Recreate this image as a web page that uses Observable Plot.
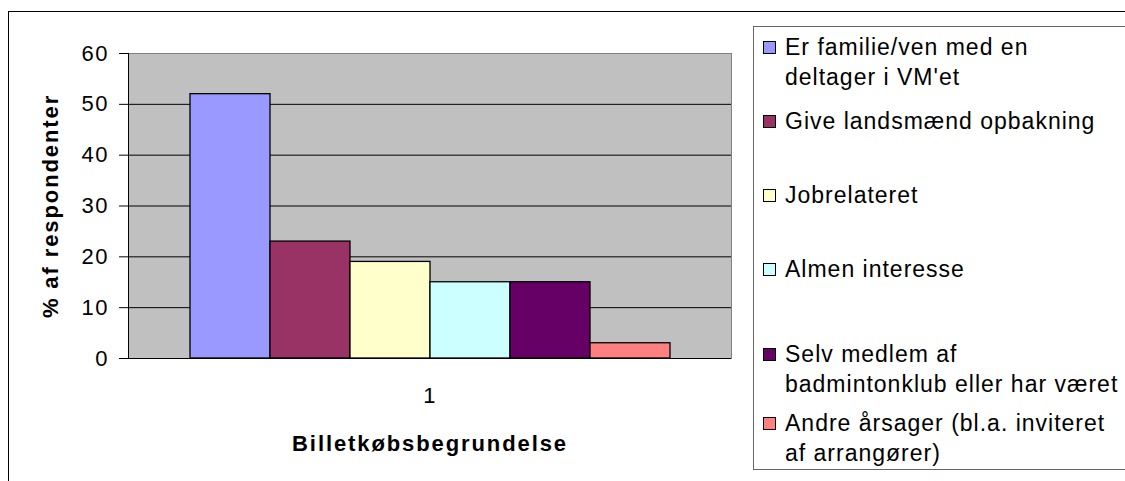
<!DOCTYPE html>
<html>
<head>
<meta charset="utf-8">
<script src="https://cdn.jsdelivr.net/npm/d3@7"></script>
<script src="https://cdn.jsdelivr.net/npm/@observablehq/plot@0.6"></script>
<style>
  body { margin: 0; background: #fff; }
  #chart { position: relative; width: 1125px; height: 481px; overflow: hidden; background: #fff;
           font-family: "Liberation Sans", Arial, sans-serif; color: #000; }
  #plot { position: absolute; left: 0; top: 0; }
  #outer { position: absolute; left: 8px; top: 11px; width: 2000px; height: 2000px;
           border-top: 1.5px solid #000; border-left: 1.5px solid #000; pointer-events: none; }
  #legend { position: absolute; left: 753px; top: 26px; width: 420px; height: 444px;
            box-sizing: border-box; border: 1px solid #666; background: #fff; padding-top: 5px; }
  .item { display: flex; align-items: flex-start; height: 74px; }
  .item:nth-child(4) { height: 85px; }
  .item:nth-child(5) { height: 69px; }
  .sw { flex: none; width: 11px; height: 11px; border: 1px solid #000; margin: 8.5px 9px 0 9px; }
  .lab { font-size: 23px; line-height: 30px; letter-spacing: 1px; white-space: pre-line; }
  #plot svg g[aria-label="y-axis label"] text, #plot svg g[aria-label="fx-axis label"] text { font-weight: bold; font-size: 22px !important; letter-spacing: 1.9px; }
  #plot svg g[aria-label$="tick label"], #plot svg g[aria-label$="tick label"] text { font-size: 22px !important; letter-spacing: 1.5px; }
</style>
</head>
<body>
<div id="chart">
  <div id="plot"></div>
  <div id="outer"></div>
  <div id="legend"></div>
</div>
<script>
const categories = ["1"];
const series = [
  "Er familie/ven med en\ndeltager i VM'et",
  "Give landsmænd opbakning",
  "Jobrelateret",
  "Almen interesse",
  "Selv medlem af\nbadmintonklub eller har været",
  "Andre årsager (bl.a. inviteret\naf arrangører)"
];
const values = [52, 23, 19, 15, 15, 3];
const colors = ["#9999FF", "#993366", "#FFFFCC", "#CCFFFF", "#660066", "#FF8080"];
const yTicks = [0, 10, 20, 30, 40, 50, 60];
const yTitle = "% af respondenter";
const xTitle = "Billetkøbsbegrundelse";

const data = series.map((s, i) => ({group: categories[0], series: s, value: values[i]}));

const chart = Plot.plot({
  width: 740,
  height: 481,
  marginLeft: 128,
  marginRight: 9,
  marginTop: 53,
  marginBottom: 123,
  style: {fontFamily: "'Liberation Sans', Arial, sans-serif", background: "transparent", color: "#000"},
  fx: {domain: categories, padding: 0},
  x: {domain: series, paddingInner: 0, paddingOuter: 0.75, axis: null},
  y: {domain: [0, 60], ticks: yTicks},
  color: {domain: series, range: colors},
  marks: [
    Plot.frame({fill: "#C0C0C0", stroke: "#808080"}),
    Plot.ruleY(yTicks.filter(d => d > 0 && d < 60), {stroke: "#000", strokeWidth: 1}),
    Plot.barY(data, {fx: "group", x: "series", y: "value", fill: "series", stroke: "#000", strokeWidth: 1.3, inset: 0}),
    Plot.ruleY([0], {stroke: "#000", strokeWidth: 1.2}),
    Plot.frame({anchor: "left", stroke: "#000"}),
    Plot.axisY({ticks: yTicks, tickSize: 9, tickPadding: 10.5, fontSize: 22, label: yTitle, labelArrow: "none", labelAnchor: "center", labelOffset: 86}),
    Plot.axisFx({anchor: "bottom", tickSize: 0, tickPadding: 29, fontSize: 22, label: xTitle, labelArrow: "none", labelAnchor: "center", labelOffset: 92})
  ]
});
document.getElementById("plot").appendChild(chart);

const legend = d3.select("#legend");
series.forEach((s, i) => {
  const item = legend.append("div").attr("class", "item");
  item.append("div").attr("class", "sw").style("background", colors[i]);
  item.append("div").attr("class", "lab").text(s);
});
</script>
</body>
</html>
